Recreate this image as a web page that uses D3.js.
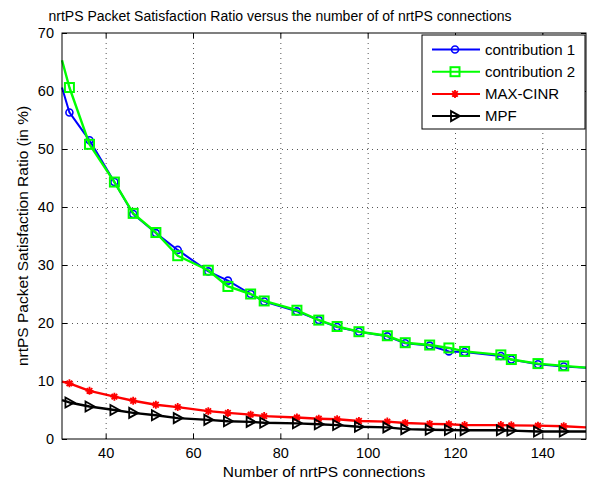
<!DOCTYPE html>
<html>
<head>
<meta charset="utf-8">
<script src="https://cdn.jsdelivr.net/npm/d3@7"></script>
<style>
  body { margin: 0; background: #fff; }
  text { font-family: "Liberation Sans", Arial, sans-serif; fill: #000; }
</style>
</head>
<body>
<div id="chart"></div>
<script>
// x positions (number of nrtPS connections) where markers sit
const connections = [31.7, 36.3, 42.0, 46.3, 51.5, 56.5, 63.5, 68.0, 73.2, 76.3, 83.8, 88.8, 93.0, 98.0, 104.5, 108.6, 114.2, 118.6, 122.2, 130.5, 132.9, 139.0, 144.9];
const contribution1 = [56.3, 51.5, 44.3, 38.8, 35.5, 32.6, 28.9, 27.3, 25.0, 23.7, 22.0, 20.5, 19.3, 18.5, 17.7, 16.5, 16.1, 15.1, 15.0, 14.3, 13.7, 12.9, 12.5];
const contribution2 = [60.6, 50.8, 44.3, 38.9, 35.6, 31.6, 29.1, 26.3, 25.0, 23.8, 22.2, 20.5, 19.4, 18.5, 17.8, 16.6, 16.2, 15.7, 15.1, 14.5, 13.7, 13.0, 12.6];
const maxCinr = [9.6, 8.3, 7.3, 6.6, 5.9, 5.5, 4.8, 4.5, 4.2, 3.95, 3.7, 3.5, 3.4, 3.1, 3.0, 2.75, 2.6, 2.55, 2.4, 2.4, 2.35, 2.3, 2.2];
const mpf = [6.3, 5.6, 5.0, 4.5, 4.1, 3.6, 3.3, 3.05, 2.95, 2.8, 2.7, 2.55, 2.4, 2.1, 2.0, 1.7, 1.6, 1.55, 1.5, 1.5, 1.45, 1.3, 1.3];
// curve values at the axis edges (x = 30 and x = 150), no marker there
const edgeX = [30, 150];
const startValues = [60.6, 65.3, 9.9, 6.7];
const endValues = [12.3, 12.3, 2.0, 1.3];

const seriesNames = ["contribution 1", "contribution 2", "MAX-CINR", "MPF"];
const seriesValues = [contribution1, contribution2, maxCinr, mpf];
const seriesColors = ["#0000ff", "#00ff00", "#ff0000", "#000000"];
const seriesMarkers = ["circle", "square", "star", "triangle"];

const xTicks = [40, 60, 80, 100, 120, 140];
const yTicks = [0, 10, 20, 30, 40, 50, 60, 70];

const W = 603, H = 483;
const margin = {top: 33, right: 17, bottom: 44, left: 62};

const svg = d3.select("#chart").append("svg")
    .attr("width", W).attr("height", H);
svg.append("rect").attr("width", W).attr("height", H).attr("fill", "#fff");

const x = d3.scaleLinear().domain([30, 150]).range([margin.left, W - margin.right]);
const y = d3.scaleLinear().domain([0, 70]).range([H - margin.bottom, margin.top]);

// grid (dotted)
const grid = svg.append("g").attr("stroke", "#555").attr("stroke-width", 1).attr("stroke-dasharray", "1,4");
grid.selectAll(".gx").data(xTicks).join("line")
    .attr("x1", d => x(d) + 0.5).attr("x2", d => x(d) + 0.5)
    .attr("y1", y(70)).attr("y2", y(0));
grid.selectAll(".gy").data(yTicks.slice(1, -1)).join("line")
    .attr("x1", x(30)).attr("x2", x(150))
    .attr("y1", d => y(d) + 0.5).attr("y2", d => y(d) + 0.5);

// axes with inward ticks on all four sides
const tickLen = 5;
svg.append("g")
    .attr("transform", `translate(0,${y(0)})`)
    .call(d3.axisBottom(x).tickValues(xTicks).tickSizeInner(-tickLen).tickSizeOuter(0).tickPadding(9))
    .call(g => g.select(".domain").remove());
svg.append("g")
    .attr("transform", `translate(0,${y(70)})`)
    .call(d3.axisTop(x).tickValues(xTicks).tickSizeInner(-tickLen).tickSizeOuter(0).tickFormat(""))
    .call(g => g.select(".domain").remove());
svg.append("g")
    .attr("transform", `translate(${x(30)},0)`)
    .call(d3.axisLeft(y).tickValues(yTicks).tickSizeInner(-tickLen).tickSizeOuter(0).tickPadding(8))
    .call(g => g.select(".domain").remove());
svg.append("g")
    .attr("transform", `translate(${x(150)},0)`)
    .call(d3.axisRight(y).tickValues(yTicks).tickSizeInner(-tickLen).tickSizeOuter(0).tickFormat(""))
    .call(g => g.select(".domain").remove());
svg.selectAll(".tick text").attr("font-size", "14.5px").attr("font-family", "Liberation Sans, Arial, sans-serif");
svg.selectAll(".tick line").attr("stroke", "#000");

const lineGen = d3.line().x(d => x(d[0])).y(d => y(d[1]));

function drawMarker(g, type, color, cx, cy) {
  if (type === "circle") {
    g.append("circle").attr("cx", cx).attr("cy", cy).attr("r", 3.5)
        .attr("fill", "none").attr("stroke", color).attr("stroke-width", 1.6);
  } else if (type === "square") {
    g.append("rect").attr("x", cx - 4.5).attr("y", cy - 4.5).attr("width", 9).attr("height", 9)
        .attr("fill", "none").attr("stroke", color).attr("stroke-width", 2);
  } else if (type === "star") {
    const r = 4;
    const p = `M${cx - r},${cy}H${cx + r}M${cx},${cy - r}V${cy + r}` +
      `M${cx - r * 0.7},${cy - r * 0.7}L${cx + r * 0.7},${cy + r * 0.7}` +
      `M${cx - r * 0.7},${cy + r * 0.7}L${cx + r * 0.7},${cy - r * 0.7}`;
    g.append("path").attr("d", p).attr("stroke", color).attr("stroke-width", 1.8).attr("fill", "none");
  } else if (type === "triangle") {
    const p = `M${cx - 4},${cy - 5}L${cx + 5},${cy}L${cx - 4},${cy + 5}Z`;
    g.append("path").attr("d", p).attr("stroke", color).attr("stroke-width", 1.8).attr("fill", "none");
  }
}

const plot = svg.append("g");
seriesValues.forEach((vals, i) => {
  const pts = [[edgeX[0], startValues[i]]]
      .concat(connections.map((c, j) => [c, vals[j]]))
      .concat([[edgeX[1], endValues[i]]]);
  const g = plot.append("g");
  g.append("path").datum(pts).attr("d", lineGen)
      .attr("fill", "none").attr("stroke", seriesColors[i])
      .attr("stroke-width", i === 0 ? 2 : 2.4).attr("stroke-linejoin", "round");
  connections.forEach((c, j) => drawMarker(g, seriesMarkers[i], seriesColors[i], x(c), y(vals[j])));
});

// box
svg.append("rect")
    .attr("x", x(30)).attr("y", y(70))
    .attr("width", x(150) - x(30)).attr("height", y(0) - y(70))
    .attr("fill", "none").attr("stroke", "#000").attr("stroke-width", 1);

// legend
const legend = svg.append("g").attr("transform", "translate(422,35)");
legend.append("rect").attr("width", 163).attr("height", 94)
    .attr("fill", "#fff").attr("stroke", "#000").attr("stroke-width", 1);
seriesNames.forEach((name, i) => {
  const ly = 14.5 + i * 22.2;
  legend.append("line").attr("x1", 10).attr("x2", 58).attr("y1", ly).attr("y2", ly)
      .attr("stroke", seriesColors[i]).attr("stroke-width", 2);
  drawMarker(legend, seriesMarkers[i], seriesColors[i], 33, ly);
  legend.append("text").attr("x", 63).attr("y", ly).attr("dy", "0.35em")
      .attr("font-size", "15px").text(name);
});

// titles
svg.append("text").attr("x", 280).attr("y", 21).attr("text-anchor", "middle")
    .attr("font-size", "14px")
    .text("nrtPS Packet Satisfaction Ratio versus the number of of nrtPS connections");
svg.append("text").attr("x", x(90)).attr("y", 477).attr("text-anchor", "middle")
    .attr("font-size", "15.5px").text("Number of nrtPS connections");
svg.append("text").attr("transform", `translate(28,${y(35)}) rotate(-90)`)
    .attr("text-anchor", "middle").attr("font-size", "15.5px")
    .text("nrtPS Packet Satisfaction Ratio (in %)");
</script>
</body>
</html>
